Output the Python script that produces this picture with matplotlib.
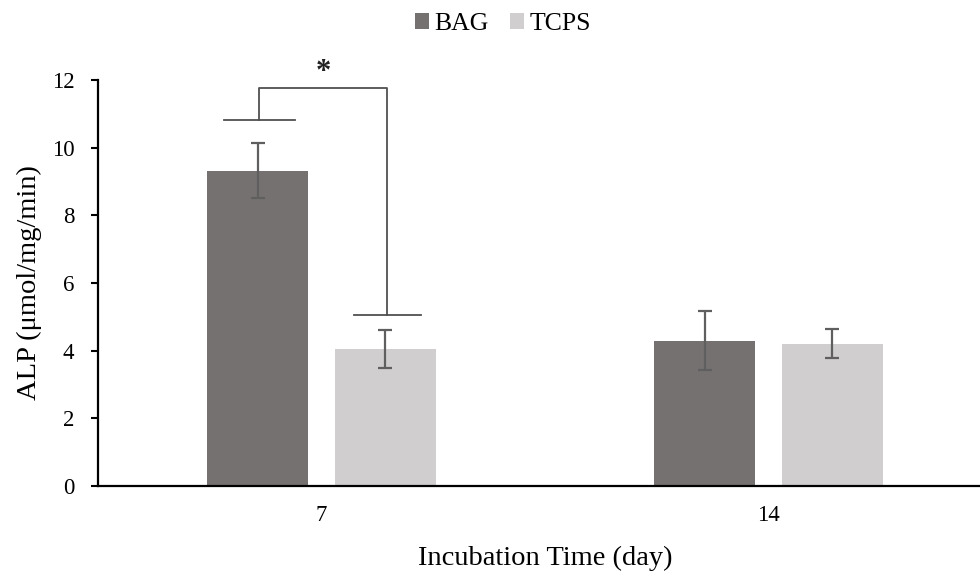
import matplotlib
matplotlib.use("Agg")
import matplotlib.pyplot as plt
import numpy as np

plt.rcParams['font.family'] = ['Liberation Serif', 'DejaVu Serif']

categories = ["7", "14"]
bag_values = [9.32, 4.29]
bag_errors = [0.82, 0.87]
tcps_values = [4.05, 4.20]
tcps_errors = [0.57, 0.43]
series_names = ["BAG", "TCPS"]
y_ticks = [0, 2, 4, 6, 8, 10, 12]
# significance bracket (day 7)
sig_levels = [10.83, 5.06]
sig_top = 11.75
sig_label = "*"

fig = plt.figure(figsize=(9.8, 5.72), dpi=100)
ax = fig.add_axes([98/980, 86/572, 894/980, 406/572])

x = np.arange(len(categories))
w = 0.226
off = 0.143
c_bag = "#767171"
c_tcps = "#D0CECE"
ecol = "#5f5f5f"
ax.bar(x - off, bag_values, w, color=c_bag, label=series_names[0], zorder=2)
ax.bar(x + off, tcps_values, w, color=c_tcps, label=series_names[1], zorder=2)
ax.errorbar(x - off, bag_values, yerr=bag_errors, fmt='none', ecolor=ecol,
            elinewidth=1.6, capsize=4.8, capthick=1.6, zorder=3)
ax.errorbar(x + off, tcps_values, yerr=tcps_errors, fmt='none', ecolor=ecol,
            elinewidth=1.6, capsize=4.8, capthick=1.6, zorder=3)

# bracket
xl = x[0] - off + 0.004
xr = x[0] + off + 0.004
hw = 0.08
bc = "#505050"
ax.plot([xl - hw, xl + hw], [sig_levels[0]] * 2, color=bc, lw=1.3)
ax.plot([xr - hw + 0.005, xr + hw - 0.005], [sig_levels[1]] * 2, color=bc, lw=1.3)
ax.plot([xl, xl, xr, xr], [sig_levels[0], sig_top, sig_top, sig_levels[1]], color=bc, lw=1.3)
ax.text((xl + xr) / 2, sig_top + 0.05, sig_label, ha='center', va='bottom', fontsize=22,
        color="#222222", fontweight='bold')

ax.set_xlim(-0.5, 1.5)
ax.set_ylim(0, 12)
ax.set_yticks(y_ticks)
ax.set_yticklabels([str(t) for t in y_ticks], fontsize=16.5)
ax.set_xticks(x)
ax.set_xticklabels(categories, fontsize=16.5)
ax.tick_params(axis='x', length=0, pad=14)
ax.tick_params(axis='y', length=5, width=1.5, pad=12, direction='out')
for s in ['top', 'right']:
    ax.spines[s].set_visible(False)
for s in ['left', 'bottom']:
    ax.spines[s].set_linewidth(1.6)
    ax.spines[s].set_color('black')

ax.set_ylabel("ALP (μmol/mg/min)", fontsize=20.5, labelpad=7)
ax.set_xlabel("Incubation Time (day)", fontsize=20.5, labelpad=14)

leg = fig.legend(loc='center', bbox_to_anchor=(503/980, 1 - 24/572), ncol=2, frameon=False,
                 fontsize=18.5, handlelength=0.55, handleheight=0.55, handletextpad=0.2,
                 columnspacing=0.85)

fig.savefig("out.png", dpi=100)
